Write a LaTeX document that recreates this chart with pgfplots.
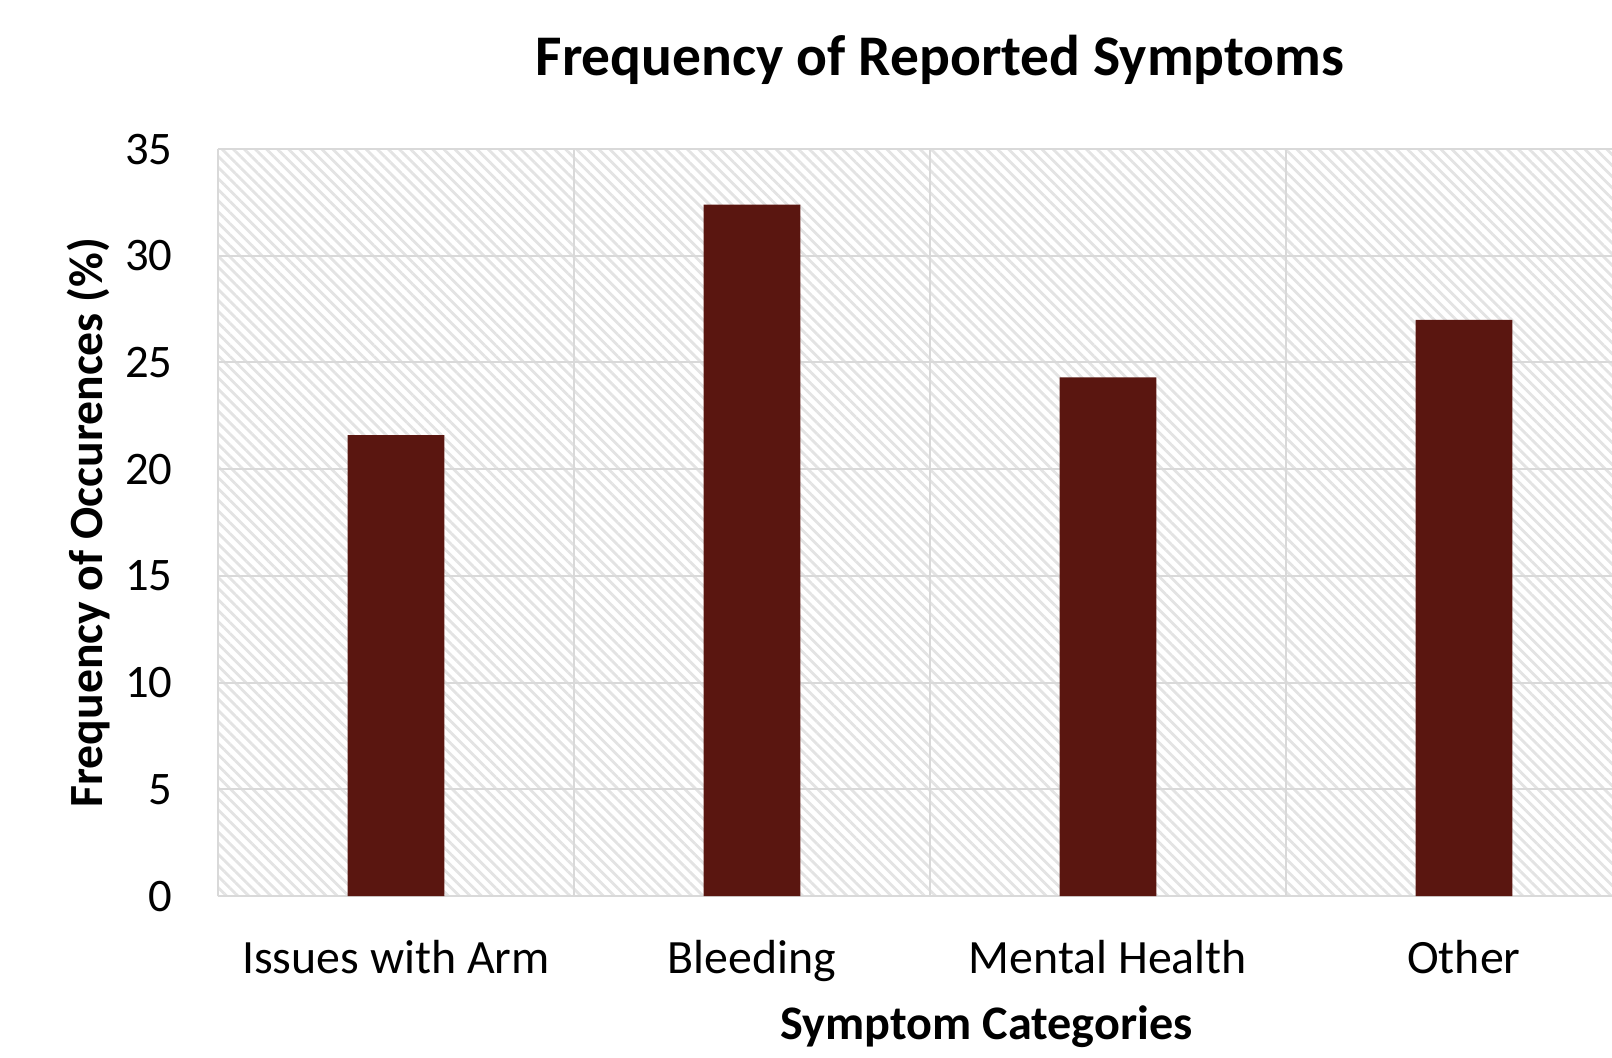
\documentclass[border=0pt]{standalone}
\usepackage{fontspec}
\setmainfont{Carlito}
\usepackage{pgfplots}
\pgfplotsset{compat=1.18}
\usetikzlibrary{patterns.meta}
\definecolor{barred}{HTML}{5A1610}
\definecolor{gridgray}{HTML}{D9D9D9}
\begin{document}
\begin{tikzpicture}
\begin{axis}[
  scale only axis,
  width=418.2pt, height=224.1pt,
  xmin=-0.5, xmax=3.416,
  ymin=0, ymax=35,
  enlargelimits=false,
  ybar, bar width=29pt,
  ytick={0,5,...,35},
  xtick={0,1,2,3},
  xticklabels={Issues with Arm, Bleeding, Mental Health, Other},
  minor xtick={-0.5,0.5,1.5,2.5},
  xminorgrids=true, ymajorgrids=true, xmajorgrids=false,
  grid style={draw=gridgray, line width=0.6pt},
  minor grid style={draw=gridgray, line width=0.6pt},
  major tick length=0pt, minor tick length=0pt,
  axis line style={draw=none},
  axis background/.style={pattern={Lines[angle=-45,distance=2.35pt,line width=0.85pt]}, pattern color=black!11},
  /pgf/number format/assume math mode=true,
  yticklabel style={font=\fontsize{14}{16}\selectfont, anchor=east, inner sep=0pt, xshift=-13.5pt},
  xticklabel style={font=\fontsize{14.35}{16}\selectfont, anchor=base, inner sep=0pt, yshift=-23.1pt},
  title={Frequency of Reported Symptoms},
  title style={at={(axis description cs:0.518,1)}, anchor=base, inner sep=0pt, yshift=16pt, font=\bfseries\fontsize{17.25}{20}\selectfont},
  xlabel={Symptom Categories},
  xlabel style={at={(axis description cs:0.5513,0)}, anchor=base, inner sep=0pt, yshift=-43pt, font=\bfseries\fontsize{14.45}{17}\selectfont},
  ylabel={Frequency of Occurences (\%)},
  ylabel style={at={(axis description cs:-0.0825,0.5)}, anchor=base, inner sep=0pt, font=\bfseries\fontsize{14.3}{16}\selectfont},
]
\addplot[fill=barred, draw=none] coordinates {(0,21.6) (1,32.4) (2,24.3) (3,27.0)};
\end{axis}
\pgfresetboundingbox
\path[use as bounding box] ([xshift=-65.4pt,yshift=-48.3pt]current axis.south west) rectangle ++(483.6pt,317.1pt);
\end{tikzpicture}
\end{document}
